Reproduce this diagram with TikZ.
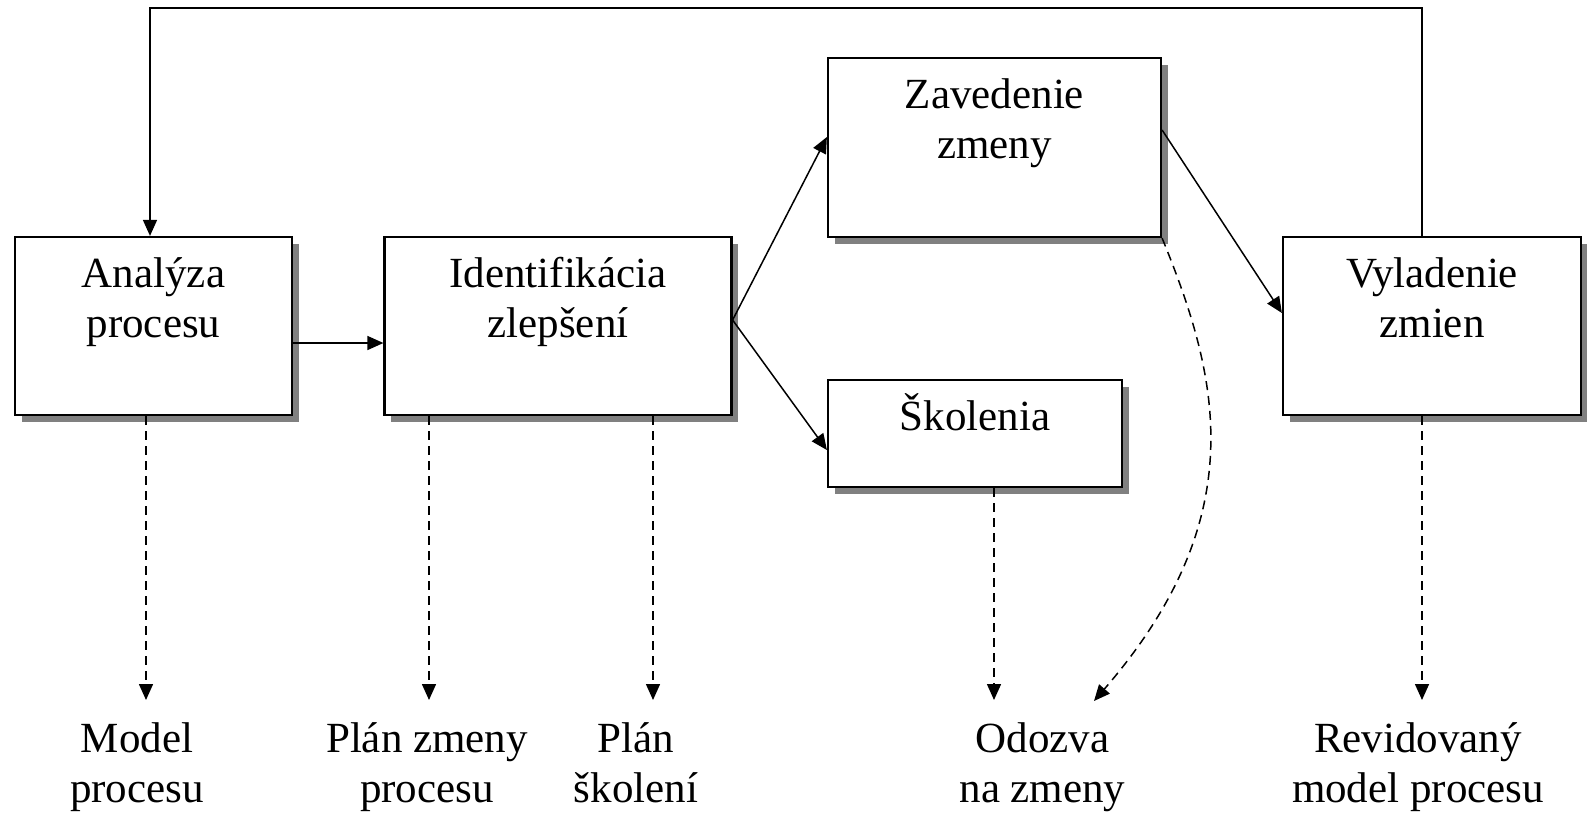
\documentclass[tikz,border=0pt]{standalone}
\usepackage{fontspec}
\setmainfont{Liberation Serif}
\usetikzlibrary{arrows.meta,shadows}
\begin{document}
\begin{tikzpicture}[x=1pt,y=-1pt,
  box/.style={draw=black, line width=2.2pt, fill=white, inner sep=0pt,
    drop shadow={shadow xshift=6.5pt, shadow yshift=-6.5pt, fill=black!50, opacity=1}},
  txt/.style={align=center, inner sep=0pt, anchor=north, font=\fontsize{43}{50}\selectfont},
  arr/.style={line width=1.5pt, -{Triangle[length=16pt,width=14pt]}},
  darr/.style={arr, dash pattern=on 9pt off 6pt}]
\fill[white] (0,0) rectangle (1587,812);
\useasboundingbox (0,0) rectangle (1587,812);

% boxes
\node[box, minimum width=277pt, minimum height=178pt] (a) at (153.5,326) {};
\node[txt] (at) at (153.5,252.5) {\strut Analýza\\\strut procesu};
\node[box, minimum width=347pt, minimum height=178pt] (i) at (558,326) {};
\node[txt] (it) at (558,252.5) {\strut Identifikácia\\\strut zlepšení};
\node[box, minimum width=333pt, minimum height=179pt] (z) at (994.5,147.5) {};
\node[txt] (zt) at (994.5,73.5) {\strut Zavedenie\\\strut zmeny};
\node[box, minimum width=294pt, minimum height=107pt] (s) at (975,433.5) {};
\node[txt, anchor=base] (st) at (975,430.5) {Školenia};
\node[box, minimum width=298pt, minimum height=178pt] (v) at (1432,326) {};
\node[txt] (vt) at (1432,252.5) {\strut Vyladenie\\\strut zmien};

% outputs
\node[txt] (m1) at (137,717) {\strut Model\\\strut procesu};
\node[txt] (m2) at (427,717) {\strut Plán zmeny\\\strut procesu};
\node[txt] (m3) at (636,717) {\strut Plán\\\strut školení};
\node[txt] (m4) at (1042.5,717) {\strut Odozva\\\strut na zmeny};
\node[txt] (m5) at (1418,717) {\strut Revidovaný\\\strut model procesu};

\coordinate (e1) at (146,700);
\coordinate (e2) at (429,700);
\coordinate (e3) at (653,700);
\coordinate (e4) at (994,700);
\coordinate (e5) at (1094,701);
\coordinate (e6) at (1422,700);
\coordinate (top) at (800,8);

% solid connectors
\draw[arr] ([yshift=-17pt]a.east) -- ([yshift=-17pt]i.west);
\draw[arr] ([yshift=6pt]i.east) -- ([yshift=10.5pt]z.west);
\draw[arr] ([yshift=6pt]i.east) -- ([yshift=-16.5pt]s.west);
\draw[arr] ([yshift=17.5pt]z.east) -- ([yshift=13pt]v.west);
\draw[arr] ([xshift=-10pt]v.north) |- (top) -| ([xshift=-3.5pt]a.north);

% dashed connectors
\draw[darr] (a.south -| e1) -- (e1);
\draw[darr] (i.south -| e2) -- (e2);
\draw[darr] (i.south -| e3) -- (e3);
\draw[darr] (s.south -| e4) -- (e4);
\draw[darr] (v.south -| e6) -- (e6);
\draw[darr] (z.south east) .. controls (1218,375) and (1255,515) .. (e5);
\end{tikzpicture}
\end{document}
